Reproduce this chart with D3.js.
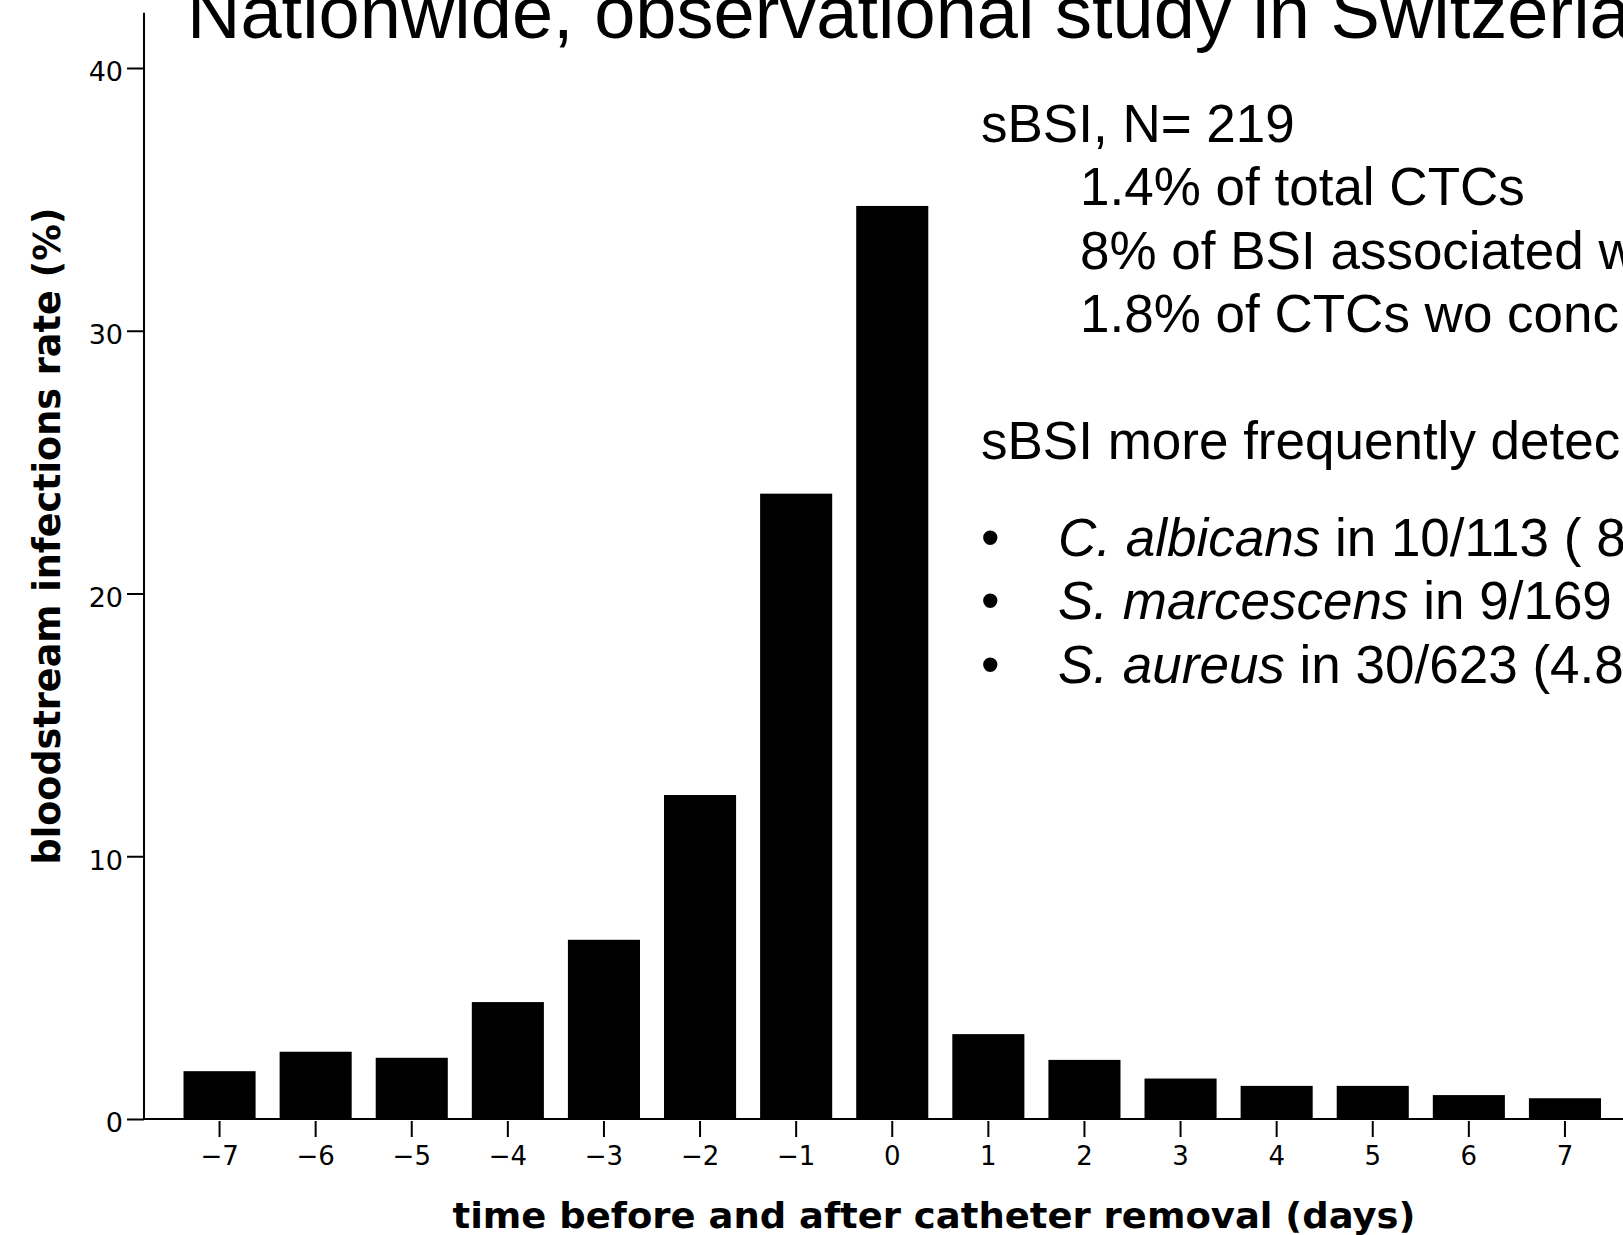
<!DOCTYPE html>
<html>
<head>
<meta charset="utf-8">
<script src="https://cdn.jsdelivr.net/npm/d3@7"></script>
<style>
  html, body { margin: 0; padding: 0; background: #fff; overflow: hidden; }
  svg { display: block; }
</style>
</head>
<body>
<svg id="chart" width="1623" height="1235"></svg>
<script>
// ---- data ----
const days = [-7, -6, -5, -4, -3, -2, -1, 0, 1, 2, 3, 4, 5, 6, 7];
const rates = [1.82, 2.56, 2.33, 4.45, 6.82, 12.33, 23.8, 34.75, 3.23, 2.25, 1.54, 1.26, 1.26, 0.91, 0.79];
const yTicks = [0, 10, 20, 30, 40];
const xTitle = "time before and after catheter removal (days)";
const yTitle = "bloodstream infections rate (%)";
const slideTitle = "Nationwide, observational study in Switzerland";
const noteLines = [
  { text: "sBSI, N= 219", indent: 0, line: 0 },
  { text: "1.4% of total CTCs", indent: 1, line: 1 },
  { text: "8% of BSI associated w", indent: 1, line: 2 },
  { text: "1.8% of CTCs wo conc", indent: 1, line: 3 },
  { text: "sBSI more frequently detec", indent: 0, line: 5 }
];
const bulletItems = [
  { species: "C. albicans", rest: " in 10/113 ( 8" },
  { species: "S. marcescens", rest: " in 9/169" },
  { species: "S. aureus", rest: " in 30/623 (4.8" }
];

// ---- layout ----
const svg = d3.select("#chart");
const axisX = 144, axisY = 1119;

const x = d3.scaleBand().domain(days).range([171.5, 1613]).paddingInner(0.25).paddingOuter(0.125);
const y = d3.scaleLinear().domain([0, 40]).range([axisY, 68]);

// slide title (cut off at top, as in the reference)
svg.append("text")
  .attr("x", 187).attr("y", 38)
  .attr("font-family", "Liberation Sans, Arial, sans-serif")
  .attr("font-size", 74)
  .attr("fill", "#000")
  .text(slideTitle);

// bars
svg.append("g").selectAll("rect").data(days).join("rect")
  .attr("x", d => x(d))
  .attr("width", x.bandwidth())
  .attr("y", (d, i) => y(rates[i]))
  .attr("height", (d, i) => axisY - y(rates[i]))
  .attr("fill", "#000");

// y axis
const yAxis = svg.append("g").attr("transform", `translate(${axisX},0)`)
  .call(d3.axisLeft(y).tickValues(yTicks).tickSize(17).tickPadding(4).tickFormat(d3.format("d")));
yAxis.select(".domain").remove();
yAxis.selectAll(".tick line").attr("stroke", "#000").attr("stroke-width", 2);
yAxis.selectAll(".tick text")
  .attr("font-family", "DejaVu Sans, sans-serif")
  .attr("font-size", 27)
  .attr("fill", "#000")
  .attr("dy", "0.48em");
svg.append("line")
  .attr("x1", axisX).attr("x2", axisX)
  .attr("y1", y(42.1)).attr("y2", axisY + 1)
  .attr("stroke", "#000").attr("stroke-width", 2);

// x axis baseline
svg.append("line")
  .attr("x1", axisX).attr("x2", 1623)
  .attr("y1", axisY).attr("y2", axisY)
  .attr("stroke", "#000").attr("stroke-width", 2);

// x axis ticks & labels
const xAxis = svg.append("g").attr("transform", `translate(0,${axisY + 2})`)
  .call(d3.axisBottom(x).tickSize(16).tickPadding(9.5).tickFormat(d3.format("d")));
xAxis.select(".domain").remove();
xAxis.selectAll(".tick line").attr("stroke", "#000").attr("stroke-width", 2);
xAxis.selectAll(".tick text")
  .attr("font-family", "DejaVu Sans, sans-serif")
  .attr("font-size", 26)
  .attr("fill", "#000");

// axis titles
svg.append("text")
  .attr("x", 934).attr("y", 1228)
  .attr("text-anchor", "middle")
  .attr("font-family", "DejaVu Sans, sans-serif")
  .attr("font-weight", "bold")
  .attr("font-size", 35)
  .attr("textLength", 963).attr("lengthAdjust", "spacingAndGlyphs")
  .attr("fill", "#000")
  .text(xTitle);

svg.append("text")
  .attr("transform", "translate(60,536) rotate(-90)")
  .attr("text-anchor", "middle")
  .attr("font-family", "DejaVu Sans, sans-serif")
  .attr("font-weight", "bold")
  .attr("font-size", 37)
  .attr("textLength", 657).attr("lengthAdjust", "spacingAndGlyphs")
  .attr("fill", "#000")
  .text(yTitle);

// annotation text block
const noteX0 = 981, noteX1 = 1080, noteY0 = 142, lineStep = 63.4;
svg.append("g").selectAll("text").data(noteLines).join("text")
  .attr("x", d => d.indent ? noteX1 : noteX0)
  .attr("y", d => noteY0 + d.line * lineStep)
  .attr("font-family", "Liberation Sans, Arial, sans-serif")
  .attr("font-size", 53)
  .attr("fill", "#000")
  .text(d => d.text);

const bulletY0 = 556;
const bg = svg.append("g");
bulletItems.forEach((b, i) => {
  const yy = bulletY0 + i * lineStep;
  bg.append("text")
    .attr("x", 981).attr("y", yy)
    .attr("font-family", "Liberation Sans, Arial, sans-serif")
    .attr("font-size", 53)
    .attr("fill", "#000")
    .text("•");
  const t = bg.append("text")
    .attr("x", 1058).attr("y", yy)
    .attr("font-family", "Liberation Sans, Arial, sans-serif")
    .attr("font-size", 53)
    .attr("fill", "#000");
  t.append("tspan").attr("font-style", "italic").text(b.species);
  t.append("tspan").text(b.rest);
});
</script>
</body>
</html>
